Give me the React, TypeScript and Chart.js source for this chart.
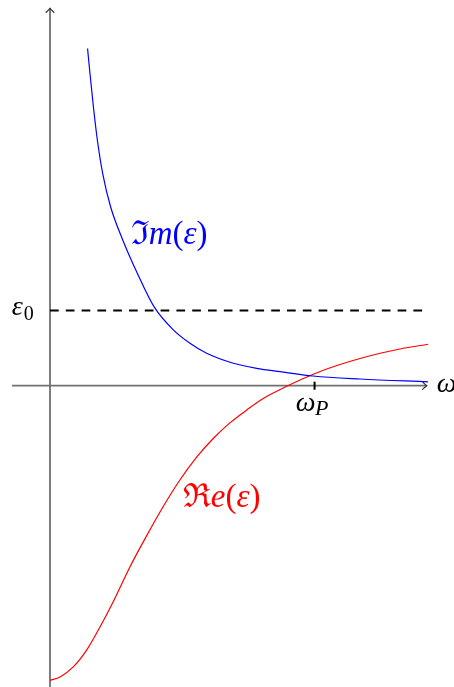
import { useEffect, useRef } from 'react';
import { Chart, registerables } from 'chart.js';

Chart.register(...registerables);

// Imaginary part of permittivity
const imOmega = [0.142, 0.151, 0.164, 0.179, 0.199, 0.229, 0.275, 0.330, 0.393, 0.466, 0.529, 0.592, 0.693, 0.781, 0.870, 0.994, 1.172, 1.429];
const imEps = [4.484, 4.154, 3.710, 3.267, 2.824, 2.380, 1.938, 1.495, 1.051, 0.742, 0.564, 0.431, 0.298, 0.231, 0.186, 0.129, 0.089, 0.051];

// Real part of permittivity
const reOmega = [0, 0.038, 0.088, 0.139, 0.189, 0.239, 0.302, 0.366, 0.428, 0.491, 0.555, 0.617, 0.680, 0.744, 0.806, 0.870, 0.945, 1.021, 1.096, 1.172, 1.248, 1.323, 1.429];
const reEps = [-3.920, -3.873, -3.740, -3.514, -3.208, -2.872, -2.411, -1.991, -1.606, -1.254, -0.948, -0.702, -0.495, -0.322, -0.170, -0.051, 0.076, 0.189, 0.282, 0.362, 0.431, 0.488, 0.551];

const eps0 = 1;
const omegaP = 1;
const omegaEnd = 1.429;

const SERIF = '"Liberation Serif", "DejaVu Serif", serif';

type Run = [string, string];

function drawRuns(ctx: CanvasRenderingContext2D, x: number, y: number, runs: Run[]) {
  let cx = x;
  for (const [t, f] of runs) {
    ctx.font = f;
    ctx.fillText(t, cx, y);
    cx += ctx.measureText(t).width;
  }
}

const overlay = {
  id: 'overlay',
  beforeDatasetsDraw(chart: any) {
    const ctx = chart.ctx;
    const xs = chart.scales.x;
    const ys = chart.scales.y;
    const ox = xs.getPixelForValue(0);
    const oy = ys.getPixelForValue(0);
    const xL = xs.getPixelForValue(-0.1437);
    const xR = xs.getPixelForValue(1.424);
    const yB = ys.getPixelForValue(-4.007);
    const yT = ys.getPixelForValue(5.019);
    ctx.save();
    ctx.strokeStyle = '#707070';
    ctx.lineWidth = 1.8;
    ctx.beginPath();
    ctx.moveTo(xL, oy);
    ctx.lineTo(xR, oy);
    ctx.moveTo(ox, yB);
    ctx.lineTo(ox, yT);
    ctx.stroke();
    // arrowheads
    ctx.strokeStyle = '#333';
    ctx.lineWidth = 1.2;
    ctx.beginPath();
    ctx.moveTo(xR - 4.5, oy - 4);
    ctx.quadraticCurveTo(xR - 1.5, oy - 1, xR, oy);
    ctx.quadraticCurveTo(xR - 1.5, oy + 1, xR - 4.5, oy + 4);
    ctx.moveTo(ox - 4.3, yT + 4.5);
    ctx.quadraticCurveTo(ox - 1, yT + 1.5, ox, yT);
    ctx.quadraticCurveTo(ox + 1, yT + 1.5, ox + 4.3, yT + 4.5);
    ctx.stroke();
    // omega_P tick
    const tx = xs.getPixelForValue(omegaP);
    ctx.strokeStyle = '#000';
    ctx.lineWidth = 2;
    ctx.beginPath();
    ctx.moveTo(tx, oy - 4);
    ctx.lineTo(tx, oy + 4);
    ctx.stroke();
    ctx.restore();
  },
  afterDatasetsDraw(chart: any) {
    const ctx = chart.ctx;
    const xs = chart.scales.x;
    const ys = chart.scales.y;
    const I = `italic 33px ${SERIF}`;
    const U = `33px ${SERIF}`;
    ctx.save();
    ctx.textBaseline = 'alphabetic';
    ctx.textAlign = 'left';
    // Im label
    ctx.fillStyle = '#0000ff';
    drawRuns(ctx, xs.getPixelForValue(0.305), ys.getPixelForValue(1.884), [
      ['ℑ', U], ['m', I], ['(', U], ['ε', I], [')', U],
    ]);
    // Re label
    ctx.fillStyle = '#ff0000';
    drawRuns(ctx, xs.getPixelForValue(0.502), ys.getPixelForValue(-1.615), [
      ['ℜ', U], ['e', I], ['(', U], ['ε', I], [')', U],
    ]);
    // omega axis label
    ctx.fillStyle = '#000';
    ctx.font = `italic 28px ${SERIF}`;
    ctx.fillText('ω', xs.getPixelForValue(1.462), ys.getPixelForValue(-0.08));
    // epsilon_0
    const ex = xs.getPixelForValue(-0.145);
    const ey = ys.getPixelForValue(eps0) + 5;
    ctx.font = `italic 28px ${SERIF}`;
    ctx.fillText('ε', ex, ey);
    const ew = ctx.measureText('ε').width;
    ctx.font = `20px ${SERIF}`;
    ctx.fillText('0', ex + ew + 1, ey + 5);
    // omega_P
    const px = xs.getPixelForValue(omegaP);
    const py = ys.getPixelForValue(0) + 25;
    ctx.font = `italic 28px ${SERIF}`;
    const ww = ctx.measureText('ω').width;
    ctx.fillText('ω', px - ww + 1, py);
    ctx.font = `italic 22px ${SERIF}`;
    ctx.fillText('P', px + 0.5, py + 4);
    ctx.restore();
  },
};

export default function App() {
  const ref = useRef<HTMLCanvasElement | null>(null);
  useEffect(() => {
    if (!ref.current) return;
    const chart = new Chart(ref.current, {
      type: 'scatter',
      data: {
        datasets: [
          {
            label: 'eps0',
            data: [
              { x: 0, y: eps0 },
              { x: omegaEnd, y: eps0 },
            ],
            showLine: true,
            borderColor: '#000',
            borderWidth: 1.8,
            borderDash: [8.7, 7.1],
            pointRadius: 0,
          },
          {
            label: 'Im',
            data: imOmega.map((x, i) => ({ x, y: imEps[i] })),
            showLine: true,
            borderColor: '#0000ff',
            borderWidth: 1.2,
            pointRadius: 0,
            cubicInterpolationMode: 'monotone',
          },
          {
            label: 'Re',
            data: reOmega.map((x, i) => ({ x, y: reEps[i] })),
            showLine: true,
            borderColor: '#ff0000',
            borderWidth: 1.2,
            pointRadius: 0,
            cubicInterpolationMode: 'monotone',
          },
        ],
      },
      options: {
        animation: false,
        responsive: false,
        devicePixelRatio: 1,
        layout: { padding: 0 },
        plugins: { legend: { display: false }, tooltip: { enabled: false }, title: { display: false } },
        events: [],
        scales: {
          x: { type: 'linear', min: -0.189, max: 1.527, display: false },
          y: { type: 'linear', min: -4.007, max: 5.129, display: false },
        },
      },
      plugins: [overlay],
    } as any);
    return () => chart.destroy();
  }, []);
  return (
    <div style={{ position: 'absolute', left: 0, top: 0, width: 454, height: 687, background: '#fff' }}>
      <canvas ref={ref} width={454} height={687} style={{ display: 'block' }} />
    </div>
  );
}
